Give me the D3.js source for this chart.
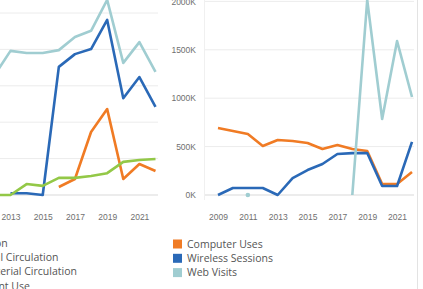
<!DOCTYPE html>
<html lang="en">
<head>
  <meta charset="utf-8">
  <title>Library usage</title>
  <script src="https://d3js.org/d3.v7.min.js"></script>
  <style>
    body { margin: 0; background: #fff; }
    svg { display: block; font-family: "Open Sans", sans-serif; }
    .tick text { fill: #6f6f6f; font-size: 8.5px; }
    .grid line { stroke: #ececec; stroke-width: 1; }
    .zero { stroke: #d9d9d9; stroke-width: 1; }
    .legend text { fill: #555; font-size: 10.5px; }
    .series { fill: none; stroke-width: 2.6; stroke-linejoin: round; }
  </style>
</head>
<body>
  <div id="chart"></div>
  <script>
    var w = 423;
    var h = 289;

    // left chart (cut off at the left edge)
    var leftYears = [2012, 2013, 2014, 2015, 2016, 2017, 2018, 2019, 2020, 2021, 2022];
    var leftSeriesA = [null, null, null, null, 22, 44, 173, 236, 44, 85, 66];
    var leftSeriesB = [null, 5, 5, 0, 352, 387, 401, 481, 266, 324, 242];
    var leftSeriesC = [328, 396, 390, 390, 398, 434, 451, 536, 363, 420, 338];
    var leftSeriesD = [0, 0, 30, 25, 47, 47, 52, 60, 91, 96, 99];
    var leftNames = ['Circulation', 'Periodical Circulation', 'Print Material Circulation', 'Equipment Use'];
    var leftTicks = [0, 100, 200, 300, 400, 500];
    var leftYearTicks = [2013, 2015, 2017, 2019, 2021];

    // right chart
    var rightYears = [2009, 2010, 2011, 2012, 2013, 2014, 2015, 2016, 2017, 2018, 2019, 2020, 2021, 2022];
    var computerUses = [692, 661, 630, 506, 568, 558, 537, 475, 517, 475, 455, 114, 114, 238];
    var wirelessSessions = [0, 72, 72, 72, 0, 175, 258, 320, 424, 433, 433, 93, 93, 548];
    var webVisits = [null, null, 0, null, null, null, null, null, null, 0, 2014, 785, 1590, 1012];
    var rightNames = ['Computer Uses', 'Wireless Sessions', 'Web Visits'];
    var rightTicks = [0, 500, 1000, 1500, 2000];
    var rightYearTicks = [2009, 2011, 2013, 2015, 2017, 2019, 2021];

    var colors = ['#f07b24', '#2a69b7', '#a0cdd1', '#93c847'];

    var svg = d3.select('#chart').append('svg')
      .attr('width', w)
      .attr('height', h);

    function drawLines(g, years, seriesList, x, y) {
      var line = d3.line()
        .defined(function (d) { return d.v != null; })
        .x(function (d) { return x(d.year); })
        .y(function (d) { return y(d.v); });

      seriesList.forEach(function (vals, i) {
        var pts = years.map(function (yr, j) { return {year: yr, v: vals[j]}; });
        g.append('path')
          .attr('class', 'series')
          .attr('d', line(pts))
          .style('stroke', colors[i]);
        // lone points with no neighbours get a dot
        var lone = pts.filter(function (d, j) {
          return d.v != null && (j == 0 || pts[j - 1].v == null) && (j == pts.length - 1 || pts[j + 1].v == null);
        });
        g.selectAll(null)
          .data(lone)
          .enter().append('circle')
          .attr('cx', function (d) { return x(d.year); })
          .attr('cy', function (d) { return y(d.v); })
          .attr('r', 2.3)
          .style('fill', colors[i]);
      });
    }

    function drawLegend(names, x0, y0, boxX) {
      var lg = svg.append('g').attr('class', 'legend');
      var item = lg.selectAll('g')
        .data(names)
        .enter().append('g')
        .attr('transform', function (d, i) { return 'translate(0,' + (y0 + i * 14.3) + ')'; });
      item.append('rect')
        .attr('x', boxX)
        .attr('y', -4.5)
        .attr('width', 9)
        .attr('height', 9)
        .style('fill', function (d, i) { return colors[i]; });
      item.append('text')
        .attr('x', x0)
        .attr('dy', '0.35em')
        .text(function (d) { return d; });
    }

    // ---------- left chart ----------
    var xL = d3.scaleLinear().domain([2013, 2022]).range([10.5, 155.5]);
    var yL = d3.scaleLinear().domain([0, 500]).range([195, 13]);

    var left = svg.append('g');
    left.append('g')
      .attr('class', 'grid')
      .selectAll('line')
      .data(leftTicks.slice(1))
      .enter().append('line')
      .attr('x1', -60).attr('x2', 158)
      .attr('y1', function (d) { return yL(d); })
      .attr('y2', function (d) { return yL(d); });
    left.append('line')
      .attr('class', 'zero')
      .attr('x1', -60).attr('x2', 158)
      .attr('y1', yL(0)).attr('y2', yL(0));

    left.append('g')
      .attr('transform', 'translate(0,211)')
      .call(d3.axisBottom(xL).tickValues(leftYearTicks).tickFormat(d3.format('d')).tickSize(0))
      .call(function (g) { g.select('.domain').remove(); });

    drawLines(left, leftYears, [leftSeriesA, leftSeriesB, leftSeriesC, leftSeriesD], xL, yL);
    drawLegend(leftNames, -45, 243, -58);

    // ---------- right chart ----------
    var xR = d3.scaleLinear().domain([2009, 2022]).range([218, 412]);
    var yR = d3.scaleLinear().domain([0, 2000]).range([195, 1.4]);

    var right = svg.append('g');
    right.append('g')
      .attr('class', 'grid')
      .selectAll('line')
      .data(rightTicks.slice(1))
      .enter().append('line')
      .attr('x1', 204).attr('x2', 414)
      .attr('y1', function (d) { return yR(d); })
      .attr('y2', function (d) { return yR(d); });
    right.append('line')
      .attr('class', 'zero')
      .attr('x1', 204).attr('x2', 414)
      .attr('y1', yR(0)).attr('y2', yR(0));
    right.append('line')
      .attr('x1', 204.5).attr('x2', 204.5)
      .attr('y1', 0).attr('y2', 200)
      .style('stroke', '#f0f0f0');

    right.append('g')
      .attr('transform', 'translate(199,0)')
      .call(d3.axisLeft(yR).tickValues(rightTicks).tickFormat(function (d) { return d + 'K'; }).tickSize(0))
      .call(function (g) { g.select('.domain').remove(); });

    right.append('g')
      .attr('transform', 'translate(0,211)')
      .call(d3.axisBottom(xR).tickValues(rightYearTicks).tickFormat(d3.format('d')).tickSize(0))
      .call(function (g) { g.select('.domain').remove(); });

    drawLines(right, rightYears, [computerUses, wirelessSessions, webVisits], xR, yR);
    drawLegend(rightNames, 187, 244, 173);

    // panel edge on the right
    svg.append('line')
      .attr('x1', 417.5).attr('x2', 417.5)
      .attr('y1', 0).attr('y2', h)
      .style('stroke', '#e3e3e3');
  </script>
</body>
</html>
